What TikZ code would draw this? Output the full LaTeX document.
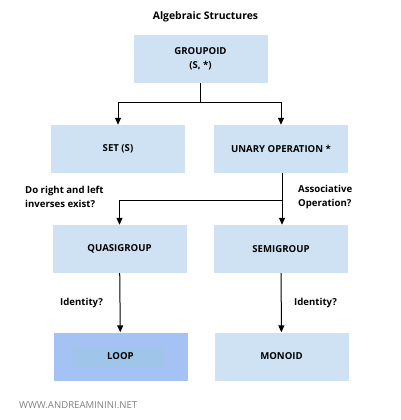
\documentclass[tikz,border=0pt]{standalone}
\usepackage{fontspec}
\setmainfont{Open Sans}
\usetikzlibrary{arrows.meta}
\definecolor{boxblue}{HTML}{CFE2F3}
\definecolor{loopblue}{HTML}{A4C2F4}
\definecolor{loopinner}{HTML}{9FC5E8}
\begin{document}
\begin{tikzpicture}[x=1pt,y=-1pt,
  box/.style={fill=boxblue, minimum width=134pt, minimum height=48pt, inner sep=0pt, align=center, font=\fontsize{9.6}{14}\selectfont\bfseries},
  lbl/.style={anchor=west, align=left, inner sep=0pt, font=\fontsize{9.6}{14}\selectfont\bfseries},
  conn/.style={line width=1pt, draw=black},
  arr/.style={conn, -{Triangle[length=7pt,width=6pt]}}]
\useasboundingbox (0,0) rectangle (400,420);
\node[font=\fontsize{10.4}{12}\selectfont\bfseries] (title) at (205.5,17) {Algebraic Structures};
\node[box] (groupoid) at (200.5,59) {GROUPOID\\(S, *)};
\node[box] (set) at (118,149) {SET (S)};
\node[box] (unary) at (281,149) {UNARY OPERATION *};
\node[box] (quasi) at (119.5,249) {QUASIGROUP};
\node[box] (semi) at (281,249) {SEMIGROUP};
\node[box, fill=loopblue] (loop) at (120.5,356.5) {};
\node[fill=loopinner, minimum width=91pt, minimum height=21pt, inner sep=0pt] (loopin) at (118,357.5) {};
\node[font=\fontsize{9.6}{11}\selectfont\bfseries] (looptxt) at (loop) {LOOP};
\node[box] (monoid) at (281.5,356.5) {MONOID};
\coordinate (j1) at (200.5,102);
\coordinate (j2) at (282,200);
\draw[conn] (groupoid) -- (j1);
\draw[arr] (j1) -| (set);
\draw[arr] (j1) -| (unary);
\draw[conn] (unary.south -| j2) -- (j2);
\draw[arr] (j2) -| (quasi);
\draw[arr] (j2) -- (semi.north -| j2);
\draw[arr] (quasi) -- (loop);
\draw[arr] (semi) -- (monoid);
\node[lbl] (q1) at (25,197) {Do right and left\\inverses exist?};
\node[lbl] (q2) at (298,197) {Associative\\Operation?};
\node[lbl] (id1) at (60,303) {Identity?};
\node[lbl] (id2) at (294,303) {Identity?};
\node[anchor=west, inner sep=0pt, text=gray, font=\fontsize{9.6}{11}\selectfont] (web) at (19,405) {WWW.ANDREAMININI.NET};
\end{tikzpicture}
\end{document}
